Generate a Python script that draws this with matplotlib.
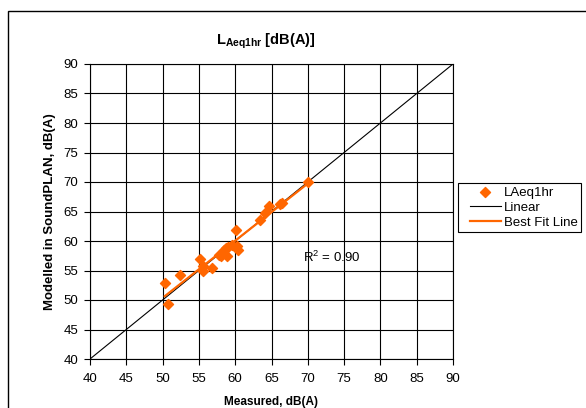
import numpy as np
import matplotlib
matplotlib.use("Agg")
import matplotlib.pyplot as plt
from matplotlib.patches import Rectangle
from matplotlib.lines import Line2D
from matplotlib.collections import PathCollection
from matplotlib.legend_handler import HandlerLine2D, HandlerPathCollection

plt.rcParams['font.family'] = ['Liberation Sans', 'DejaVu Sans']
plt.rcParams['mathtext.fontset'] = 'custom'
plt.rcParams['mathtext.rm'] = 'Liberation Sans'
plt.rcParams['mathtext.bf'] = 'Liberation Sans:bold'

# measured vs modelled levels, dB(A)
measured = [50.3, 50.8, 52.4, 55.2, 55.6, 55.5, 56.8, 57.7, 58.1, 58.5, 58.7,
            59.0, 58.9, 59.5, 60.1, 60.3, 60.4, 63.4, 64.1, 64.7, 66.2, 66.5, 70.0]
modelled = [52.9, 49.4, 54.3, 57.0, 55.8, 54.9, 55.4, 57.6, 57.5, 58.5, 58.8,
            59.0, 57.5, 59.3, 61.9, 59.2, 58.4, 63.6, 64.8, 65.9, 66.2, 66.5, 70.0]
linear = [40, 90]
ticks = list(range(40, 95, 5))

orange = '#FF6600'

fig = plt.figure(figsize=(5.86, 4.08), dpi=100)
ax = fig.add_axes([90 / 586, 49 / 408, 363 / 586, 295 / 408])

ax.plot(linear, linear, color='black', lw=0.8, label='Linear', zorder=2)

# best fit line over measured range
coef = np.polyfit(measured, modelled, 1)
fx = np.array([min(measured), max(measured)])
ax.plot(fx, np.polyval(coef, fx), color=orange, lw=1.6, label='Best Fit Line', zorder=3)

ax.scatter(measured, modelled, marker='D', s=26, color=orange, label='LAeq1hr', zorder=4)

ax.set_xlim(40, 90)
ax.set_ylim(40, 90)
ax.set_xticks(ticks)
ax.set_yticks(ticks)
ax.grid(True, color='black', lw=0.8)
ax.set_axisbelow(True)
ax.tick_params(direction='out', length=4, width=0.8, labelsize=9.5, colors='black')
ax.tick_params(axis='x', pad=6)
ax.tick_params(axis='y', pad=4.5)
for s in ax.spines.values():
    s.set_color('black')
    s.set_linewidth(0.8)

ax.text(69.3, 57.2, r'R$^2$ = 0.90', fontsize=9.5, va='center', ha='left')

ax.set_xlabel('Measured, dB(A)', fontsize=8.5, fontweight='bold', labelpad=8)
ax.set_ylabel('Modelled in SoundPLAN, dB(A)', fontsize=9.5, fontweight='bold', labelpad=5)

fig.text(266 / 586, 1 - 41 / 408, r'$\mathbf{L_{Aeq1hr}}$ [dB(A)]', ha='center',
         va='center', fontsize=10.5, fontweight='bold')

h, l = ax.get_legend_handles_labels()
order = [2, 0, 1]
hmap = {Line2D: HandlerLine2D(xpad=0.65), PathCollection: HandlerPathCollection(xpad=0.65)}
leg = fig.legend([h[i] for i in order], [l[i] for i in order], loc='upper left',
                 bbox_to_anchor=(458 / 586, 1 - 183 / 408), borderaxespad=0,
                 fancybox=False, edgecolor='black', fontsize=9.5, handlelength=3.0,
                 handletextpad=0.2, borderpad=0.25, labelspacing=0.22, framealpha=1,
                 handler_map=hmap)
leg.get_frame().set_linewidth(0.8)

fig.patches.append(Rectangle((8 / 586, -0.1), 2, 1.1 - 11 / 408, transform=fig.transFigure,
                             fill=False, edgecolor='black', lw=1.0))

fig.savefig('out.png', dpi=100)
